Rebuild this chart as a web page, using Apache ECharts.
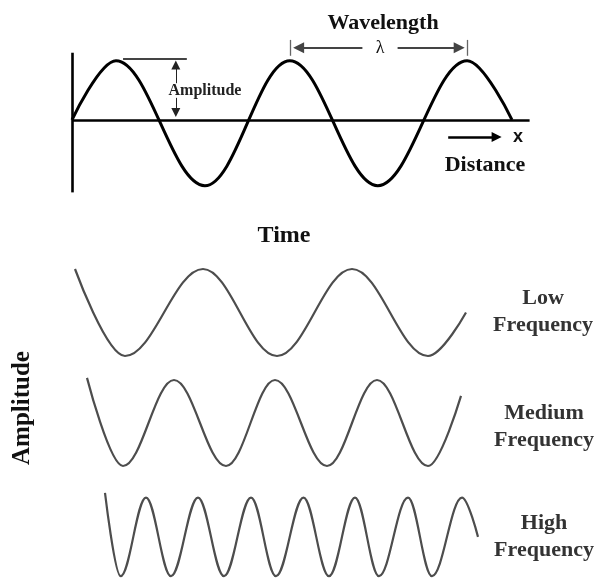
<!DOCTYPE html>
<html><head><meta charset="utf-8">
<script src="https://cdn.jsdelivr.net/npm/echarts@6/dist/echarts.min.js"></script>
<style>html,body{margin:0;padding:0;background:#fff}#c{width:610px;height:584px}</style>
</head><body><div id="c"></div>
<script>
// ---- Top diagram: displacement vs distance (x in quarter wavelengths, y in amplitude units)
const distanceX = [0, 1, 3.02, 4.95, 6.95, 8.98, 10];
const distanceY = [0, 0.97, -1.08, 0.97, -1.08, 0.97, 0];

// ---- Bottom diagram: waves vs time (time units, amplitude units)
const lowT  = [1.5, 6.5, 14.3, 21.7, 29.2, 36.8, 40.6];
const lowA  = [1.0, -1, 1, -1, 1, -1, 0];
const medT  = [2.7, 6.3, 11.4, 16.6, 21.5, 26.7, 31.7, 36.8, 40.1];
const medA  = [1.05, -1, 1, -1, 1, -1, 1, -1, 0.63];
const highT = [4.5, 6.06, 8.6, 11.1, 13.8, 16.4, 19.1, 21.6, 24.35, 26.9, 29.5, 31.9, 34.8, 37.2, 40.2, 41.8];
const highA = [1.12, -1, 1, -1, 1, -1, 1, -1, 1, -1, 1, -1, 1, -1, 1, 0];

// ---- Annotation geometry (data space of the top diagram)
const axisV      = [[0, -1.19], [0, 1.1]];
const axisH      = [[0, 0], [10.4, 0]];
const ampGuide   = [[1.16, 1.0], [2.61, 1.0]];
const ampArrowUp = [[2.36, 0.6], [2.36, 0.9]];
const ampArrowDn = [[2.36, 0.36], [2.36, 0.12]];
const waveTickL  = [[4.95, 1.05], [4.95, 1.31]];
const waveTickR  = [[8.98, 1.05], [8.98, 1.31]];
const waveArrL   = [[6.6, 1.18], [5.15, 1.18]];
const waveArrR   = [[7.4, 1.18], [8.8, 1.18]];
const distArrow  = [[8.55, -0.28], [9.65, -0.28]];

const texts = {
  wavelength: 'Wavelength', lambda: 'λ', amplitudeSmall: 'Amplitude',
  x: 'x', distance: 'Distance', time: 'Time', amplitude: 'Amplitude',
  freq: ['Low\nFrequency', 'Medium\nFrequency', 'High\nFrequency']
};

const zip = (a, b) => a.map((v, i) => [v, b[i]]);
const serif = '"Liberation Serif", "Times New Roman", serif';

function seg(p, style, s0, s1, size) {
  return [
    { coord: p[0], symbol: s0 || 'none', symbolSize: size || 8, lineStyle: style },
    { coord: p[1], symbol: s1 || 'none', symbolSize: size || 8 }
  ];
}
const black = { color: '#000', width: 2.6, type: 'solid' };
const grey = { color: '#444', width: 2, type: 'solid' };
const ampStyle = { color: '#222', width: 1, type: 'solid' };
const thinGrey = { color: '#666', width: 1.3, type: 'solid' };

const chart = echarts.init(document.getElementById('c'), null, { renderer: 'canvas' });

const bottomGrids = [
  { top: 260.3, height: 104.4 },
  { top: 371.4, height: 103.2 },
  { top: 489.7, height: 99.6 }
];

const option = {
  animation: false,
  backgroundColor: '#fff',
  grid: [
    { left: 72, top: 19.8, width: 457.6, height: 173.2 },
    ...bottomGrids.map(g => ({ left: 60, width: 430, top: g.top, height: g.height }))
  ],
  xAxis: [
    { gridIndex: 0, type: 'value', min: 0, max: 10.4, show: false },
    { gridIndex: 1, type: 'value', min: 0, max: 43, show: false },
    { gridIndex: 2, type: 'value', min: 0, max: 43, show: false },
    { gridIndex: 3, type: 'value', min: 0, max: 43, show: false }
  ],
  yAxis: [
    { gridIndex: 0, type: 'value', min: -1.2, max: 1.64, show: false },
    { gridIndex: 1, type: 'value', min: -1.2, max: 1.2, show: false },
    { gridIndex: 2, type: 'value', min: -1.2, max: 1.2, show: false },
    { gridIndex: 3, type: 'value', min: -1.2, max: 1.2, show: false }
  ],
  series: [
    {
      type: 'line', xAxisIndex: 0, yAxisIndex: 0, clip: false,
      data: zip(distanceX, distanceY),
      smooth: 0.364, smoothMonotone: 'x', symbol: 'none',
      lineStyle: { color: '#000', width: 3 },
      markLine: {
        silent: true, animation: false,
        label: { show: false },
        emphasis: { disabled: true },
        data: [
          seg(axisV, black),
          seg(axisH, black),
          seg(ampGuide, grey),
          seg(ampArrowUp, ampStyle, 'none', 'triangle', 9),
          seg(ampArrowDn, ampStyle, 'none', 'triangle', 9),
          seg(waveTickL, thinGrey),
          seg(waveTickR, thinGrey),
          seg(waveArrL, grey, 'none', 'triangle', 11),
          seg(waveArrR, grey, 'none', 'triangle', 11),
          seg(distArrow, black, 'none', 'triangle', 10)
        ]
      }
    },
    ...[[lowT, lowA], [medT, medA], [highT, highA]].map((s, i) => ({
      type: 'line', xAxisIndex: i + 1, yAxisIndex: i + 1, clip: false,
      data: zip(s[0], s[1]),
      smooth: 0.364, smoothMonotone: 'x', symbol: 'none',
      lineStyle: { color: '#4d4d4d', width: 2.2 }
    }))
  ],
  graphic: [
    { type: 'text', x: 383, y: 23, style: { text: texts.wavelength, font: 'bold 22px ' + serif, fill: '#111', align: 'center', verticalAlign: 'middle' } },
    { type: 'text', x: 380, y: 48, style: { text: texts.lambda, font: '18px ' + serif, fill: '#111', align: 'center', verticalAlign: 'middle' } },
    { type: 'text', x: 205, y: 91, style: { text: texts.amplitudeSmall, font: 'bold 16px ' + serif, fill: '#222', align: 'center', verticalAlign: 'middle' } },
    { type: 'text', x: 518, y: 137, style: { text: texts.x, font: 'bold 18px "Liberation Sans", Arial, sans-serif', fill: '#111', align: 'center', verticalAlign: 'middle' } },
    { type: 'text', x: 485, y: 165, style: { text: texts.distance, font: 'bold 22px ' + serif, fill: '#111', align: 'center', verticalAlign: 'middle' } },
    { type: 'text', x: 284, y: 236, style: { text: texts.time, font: 'bold 24px ' + serif, fill: '#111', align: 'center', verticalAlign: 'middle' } },
    { type: 'text', x: 23, y: 408, rotation: Math.PI / 2, style: { text: texts.amplitude, font: 'bold 25px ' + serif, fill: '#111', align: 'center', verticalAlign: 'middle' } },
    { type: 'text', x: 543, y: 312, style: { text: texts.freq[0], font: 'bold 22px ' + serif, lineHeight: 27, fill: '#333', align: 'center', verticalAlign: 'middle' } },
    { type: 'text', x: 544, y: 427, style: { text: texts.freq[1], font: 'bold 22px ' + serif, lineHeight: 27, fill: '#333', align: 'center', verticalAlign: 'middle' } },
    { type: 'text', x: 544, y: 537, style: { text: texts.freq[2], font: 'bold 22px ' + serif, lineHeight: 27, fill: '#333', align: 'center', verticalAlign: 'middle' } }
  ]
};
chart.setOption(option);
</script></body></html>
